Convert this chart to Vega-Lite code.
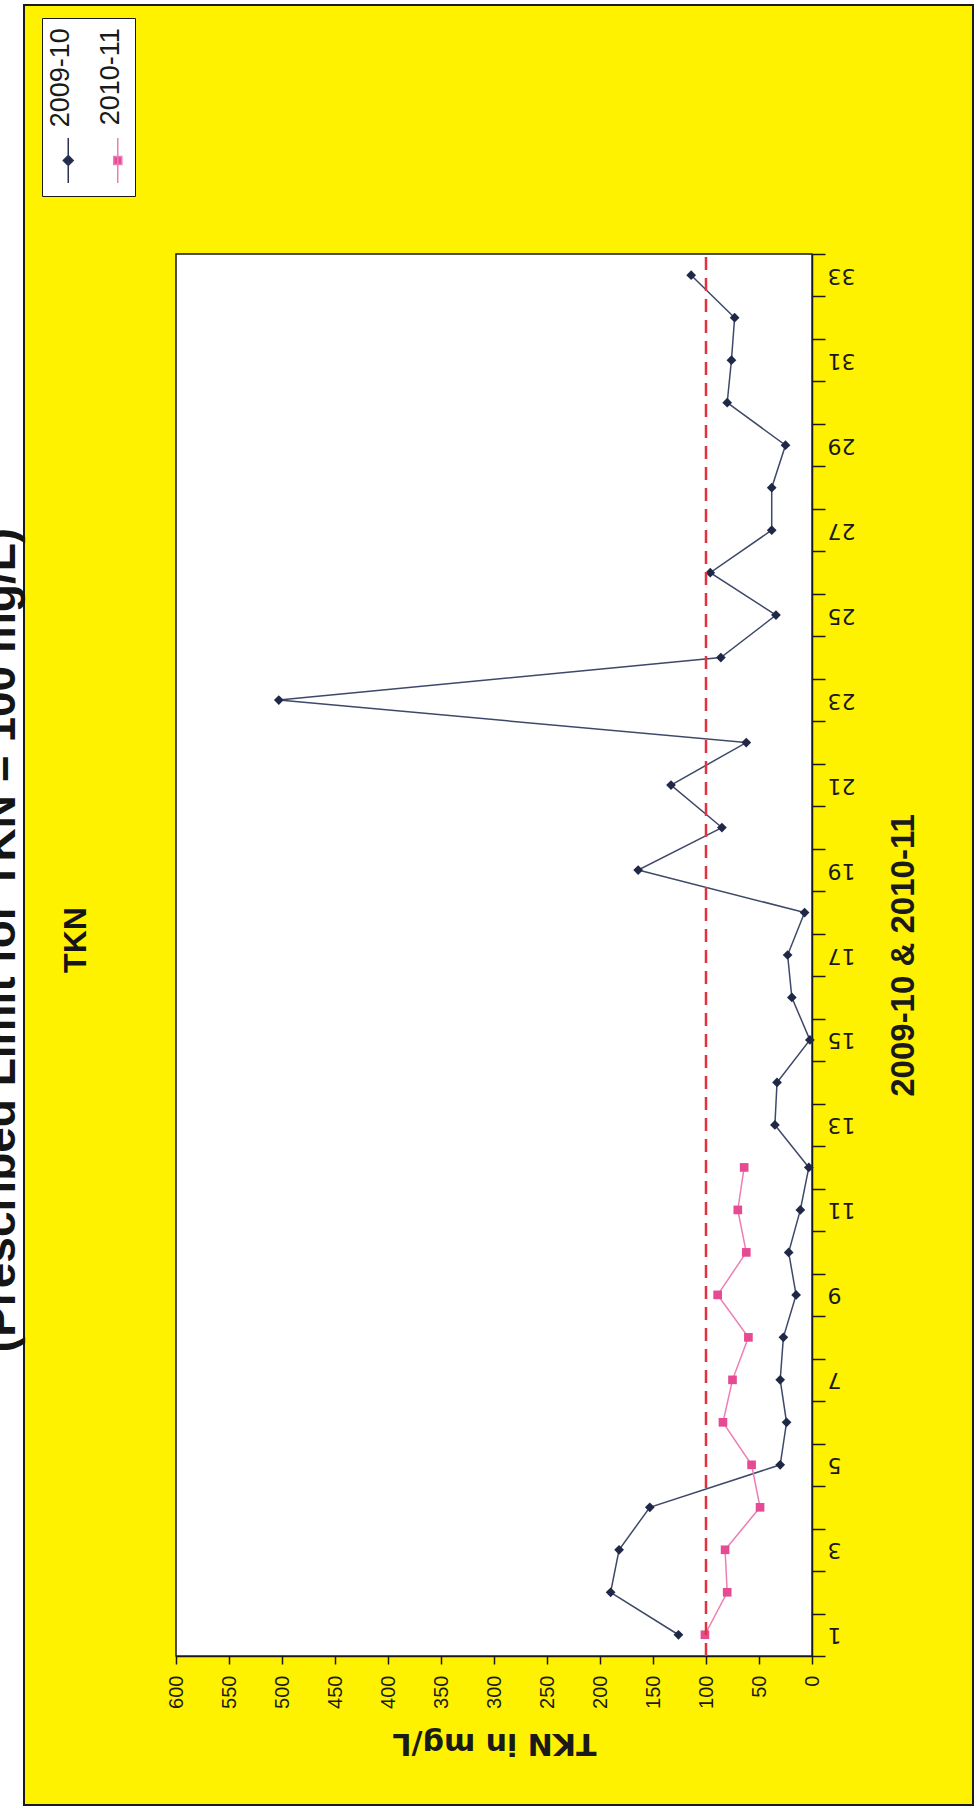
{
  "$schema": "https://vega.github.io/schema/vega-lite/v6.json",
  "width": 949,
  "height": 1800,
  "autosize": {"type": "none"},
  "padding": {"left": 24, "top": 5, "right": 5, "bottom": 6},
  "background": "#FFFFFF",
  "title": {
    "text": "(Prescribed Limit for TKN = 100 mg/L)",
    "subtitle": "TKN",
    "orient": "left",
    "anchor": "middle",
    "offset": -69,
    "dx": -35,
    "font": "Liberation Sans",
    "fontSize": 46,
    "fontWeight": "bold",
    "color": "#151515",
    "subtitleFont": "Liberation Sans",
    "subtitleFontSize": 32,
    "subtitleFontWeight": "bold",
    "subtitleColor": "#151515",
    "subtitlePadding": 36
  },
  "config": {
    "view": {"fill": "#FFF200", "stroke": "#1A1A1A", "strokeWidth": 2},
    "axis": {
      "grid": false,
      "domainColor": "#1A1A1A",
      "domainWidth": 1.5,
      "tickColor": "#1A1A1A",
      "tickWidth": 1.5,
      "labelColor": "#1A1A1A",
      "titleColor": "#1A1A1A",
      "labelOverlap": false,
      "labelFlush": false
    }
  },
  "data": {
    "values": [
      {"idx": 1, "series": "2009-10", "tkn": 126},
      {"idx": 2, "series": "2009-10", "tkn": 190},
      {"idx": 3, "series": "2009-10", "tkn": 182},
      {"idx": 4, "series": "2009-10", "tkn": 153},
      {"idx": 5, "series": "2009-10", "tkn": 30},
      {"idx": 6, "series": "2009-10", "tkn": 24},
      {"idx": 7, "series": "2009-10", "tkn": 30},
      {"idx": 8, "series": "2009-10", "tkn": 27},
      {"idx": 9, "series": "2009-10", "tkn": 15},
      {"idx": 10, "series": "2009-10", "tkn": 22},
      {"idx": 11, "series": "2009-10", "tkn": 11},
      {"idx": 12, "series": "2009-10", "tkn": 3},
      {"idx": 13, "series": "2009-10", "tkn": 35},
      {"idx": 14, "series": "2009-10", "tkn": 33},
      {"idx": 15, "series": "2009-10", "tkn": 2},
      {"idx": 16, "series": "2009-10", "tkn": 19},
      {"idx": 17, "series": "2009-10", "tkn": 23},
      {"idx": 18, "series": "2009-10", "tkn": 7},
      {"idx": 19, "series": "2009-10", "tkn": 164},
      {"idx": 20, "series": "2009-10", "tkn": 85},
      {"idx": 21, "series": "2009-10", "tkn": 133},
      {"idx": 22, "series": "2009-10", "tkn": 62},
      {"idx": 23, "series": "2009-10", "tkn": 503},
      {"idx": 24, "series": "2009-10", "tkn": 86},
      {"idx": 25, "series": "2009-10", "tkn": 34},
      {"idx": 26, "series": "2009-10", "tkn": 96},
      {"idx": 27, "series": "2009-10", "tkn": 38},
      {"idx": 28, "series": "2009-10", "tkn": 38},
      {"idx": 29, "series": "2009-10", "tkn": 25},
      {"idx": 30, "series": "2009-10", "tkn": 80},
      {"idx": 31, "series": "2009-10", "tkn": 76},
      {"idx": 32, "series": "2009-10", "tkn": 73},
      {"idx": 33, "series": "2009-10", "tkn": 114},
      {"idx": 1, "series": "2010-11", "tkn": 101},
      {"idx": 2, "series": "2010-11", "tkn": 80},
      {"idx": 3, "series": "2010-11", "tkn": 82},
      {"idx": 4, "series": "2010-11", "tkn": 49},
      {"idx": 5, "series": "2010-11", "tkn": 57},
      {"idx": 6, "series": "2010-11", "tkn": 84},
      {"idx": 7, "series": "2010-11", "tkn": 75},
      {"idx": 8, "series": "2010-11", "tkn": 60},
      {"idx": 9, "series": "2010-11", "tkn": 89},
      {"idx": 10, "series": "2010-11", "tkn": 62},
      {"idx": 11, "series": "2010-11", "tkn": 70},
      {"idx": 12, "series": "2010-11", "tkn": 64}
    ]
  },
  "encoding": {
    "x": {
      "field": "tkn",
      "type": "quantitative",
      "scale": {"domain": [0, 600], "range": [788, 152], "nice": false, "zero": false},
      "axis": {
        "orient": "bottom",
        "offset": -149,
        "values": [0, 50, 100, 150, 200, 250, 300, 350, 400, 450, 500, 550, 600],
        "tickSize": 8,
        "labelPadding": 11,
        "labelAngle": -90,
        "labelAlign": "right",
        "labelBaseline": "middle",
        "labelFont": "Liberation Sans",
        "labelFontSize": 20,
        "title": "TKN in mg/L",
        "titleAngle": 180,
        "titleBaseline": "bottom",
        "titleFont": "DejaVu Sans",
        "titleFontSize": 30,
        "titleFontWeight": "bold",
        "titlePadding": 19
      }
    },
    "y": {
      "field": "idx",
      "type": "quantitative",
      "scale": {"domain": [0.5, 33.5], "range": [1651, 249], "nice": false, "zero": false},
      "axis": {
        "orient": "right",
        "offset": -161,
        "values": [0.5, 1.5, 2.5, 3.5, 4.5, 5.5, 6.5, 7.5, 8.5, 9.5, 10.5, 11.5, 12.5, 13.5, 14.5, 15.5, 16.5, 17.5, 18.5, 19.5, 20.5, 21.5, 22.5, 23.5, 24.5, 25.5, 26.5, 27.5, 28.5, 29.5, 30.5, 31.5, 32.5, 33.5],
        "tickSize": 13,
        "labelPadding": 2,
        "labelAngle": 180,
        "labelAlign": "right",
        "labelBaseline": "middle",
        "labelOffset": -21.24,
        "labelExpr": "(datum.value + 0.5) % 2 == 1 ? '' + (datum.value + 0.5) : ''",
        "labelFont": "DejaVu Sans",
        "labelFontSize": 22,
        "title": "2009-10 & 2010-11",
        "titleAngle": -90,
        "titleBaseline": "top",
        "titleFont": "Liberation Sans",
        "titleFontSize": 33,
        "titleFontWeight": "bold",
        "titlePadding": 33
      }
    }
  },
  "layer": [
    {
      "transform": [{"filter": "datum.idx == 1 && datum.series == '2009-10'"}],
      "mark": {"type": "rect", "fill": "#FFFFFF", "stroke": "#1A1A1A", "strokeWidth": 1.5},
      "encoding": {
        "x": {"datum": 600, "type": "quantitative"},
        "x2": {"datum": 0},
        "y": {"datum": 0.5, "type": "quantitative"},
        "y2": {"datum": 33.5}
      }
    },
    {
      "transform": [{"filter": "datum.series == '2009-10'"}],
      "mark": {"type": "line", "strokeWidth": 1.5, "color": "#3E4869"},
      "encoding": {"order": {"field": "idx", "type": "quantitative"}}
    },
    {
      "transform": [{"filter": "datum.series == '2010-11'"}],
      "mark": {"type": "line", "strokeWidth": 1.5, "color": "#EE7DB5"},
      "encoding": {"order": {"field": "idx", "type": "quantitative"}}
    },
    {
      "transform": [{"filter": "datum.series == '2009-10'"}],
      "mark": {"type": "point", "filled": true, "opacity": 1, "shape": "diamond", "size": 95},
      "encoding": {
        "color": {
          "field": "series",
          "type": "nominal",
          "scale": {"domain": ["2009-10", "2010-11"], "range": ["#1F2847", "#E64A93"]},
          "legend": {
            "orient": "none",
            "legendX": 18,
            "legendY": 13,
            "direction": "horizontal",
            "columns": 2,
            "title": null,
            "fillColor": "#FFFFFF",
            "strokeColor": "#1A1A1A",
            "padding": 10,
            "columnPadding": 19.5,
            "symbolType": "M0,-1V1M0,-0.22L0.22,0L0,0.22L-0.22,0Z",
            "symbolSize": 2025,
            "symbolStrokeWidth": 1.5,
            "symbolOffset": -7.25,
            "labelOffset": 0,
            "labelAlign": "right",
            "labelBaseline": "middle",
            "labelFont": "Liberation Sans",
            "labelFontSize": 27,
            "labelColor": "#1A1A1A",
            "encoding": {
              "symbols": {
                "shape": {"value": {"expr": "datum.value === '2010-11' ? 'M0,-1V1M-0.18,-0.18H0.18V0.18H-0.18Z' : 'M0,-1V1M0,-0.22L0.22,0L0,0.22L-0.22,0Z'"}},
                "stroke": {"value": {"expr": "datum.value === '2010-11' ? '#EE7DB5' : '#2A3357'"}},
                "fill": {"value": {"expr": "datum.value === '2010-11' ? '#E64A93' : '#1F2847'"}},
                "strokeWidth": {"value": 1.5},
                "y": {"value": 132.5}
              },
              "labels": {
                "angle": {"value": -90},
                "dx": {"value": 23.25},
                "dy": {"value": -30.5}
              }
            }
          }
        }
      }
    },
    {
      "transform": [{"filter": "datum.series == '2010-11'"}],
      "mark": {"type": "point", "filled": true, "opacity": 1, "shape": "square", "size": 75},
      "encoding": {
        "color": {
          "field": "series",
          "type": "nominal",
          "scale": {"domain": ["2009-10", "2010-11"], "range": ["#1F2847", "#E64A93"]}
        }
      }
    },
    {
      "transform": [{"filter": "datum.idx == 1 && datum.series == '2009-10'"}],
      "mark": {"type": "rule", "color": "#E3323F", "strokeWidth": 2.5, "strokeDash": [13, 8]},
      "encoding": {
        "x": {"datum": 100, "type": "quantitative"},
        "y": {"datum": 0.5, "type": "quantitative"},
        "y2": {"datum": 33.5}
      }
    }
  ]
}
